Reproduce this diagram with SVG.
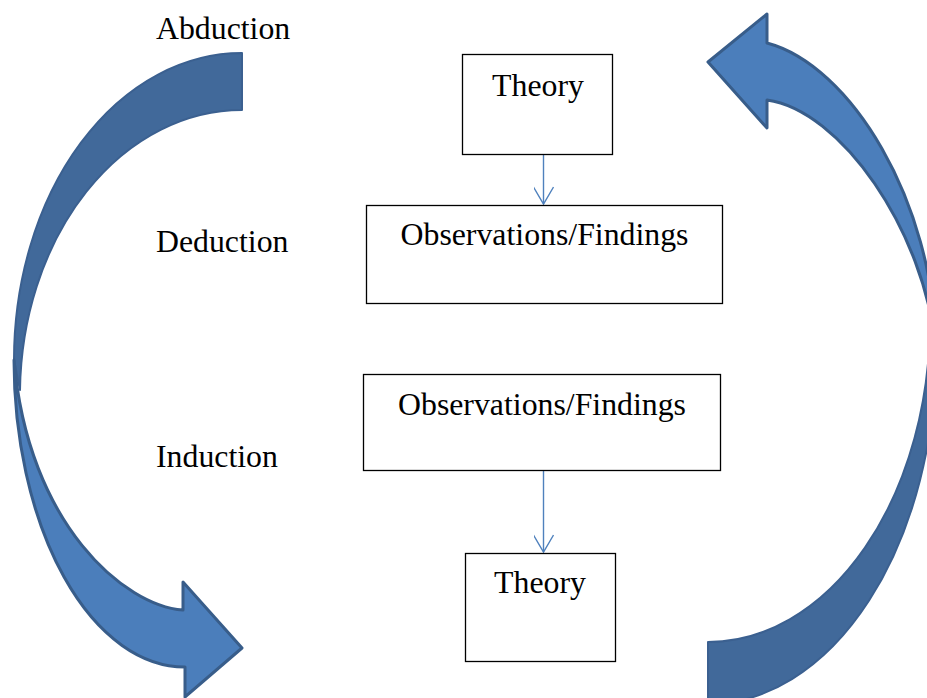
<svg xmlns="http://www.w3.org/2000/svg" width="927" height="698" viewBox="0 0 927 698">
  <defs>
    <style>
      .box { fill: #ffffff; stroke: #000000; stroke-width: 1.3; }
      .txt { font-family: "Liberation Serif", "Times New Roman", serif; font-size: 31.8px; fill: #000000; }
      .mid { text-anchor: middle; }
      .link { fill: none; stroke: #4F81BD; stroke-width: 1.4; }
      .back { fill: #41699A; stroke: #3B6090; stroke-width: 2; stroke-linejoin: round; }
      .front { fill: #4B7EBB; stroke: #385D8A; stroke-width: 3; stroke-linejoin: round; }
    </style>
    <marker id="vhead" markerUnits="userSpaceOnUse" markerWidth="24" markerHeight="20" refX="21" refY="10" orient="auto">
      <path d="M4,0 L21,10 L4,20" fill="none" stroke="#4F81BD" stroke-width="1.4"/>
    </marker>
  </defs>

  <!-- large curved arrow on the left, running down from the top -->
  <g id="arrow-left">
    <path class="back" d="M242,53 A228,307 0 0 0 14,360 L20,390 A222,285 0 0 1 242,110 Z"/>
    <path class="front" d="M14,360 A171,307 0 0 0 185,667 L185,697 L242,648 L183,582 L183,610 C125,606 28,525 14,360 Z"/>
  </g>

  <!-- large curved arrow on the right, running up from the bottom -->
  <g id="arrow-right" transform="rotate(180 475 355)">
    <path class="back" d="M242,6 A228,354 0 0 0 14,360 L20,390 A222,322 0 0 1 242,68 Z"/>
    <path class="front" d="M14,360 C16,510 100,645 183,667 L183,696 L242,648 L183,582 L183,610 C110,600 25,480 14,360 Z"/>
  </g>

  <!-- side labels -->
  <g id="label-abduction"><text class="txt" x="156" y="39">Abduction</text></g>
  <g id="label-deduction"><text class="txt" x="156" y="252">Deduction</text></g>
  <g id="label-induction"><text class="txt" x="156" y="467">Induction</text></g>

  <!-- connectors -->
  <g id="connectors">
    <line class="link" x1="543.5" y1="155" x2="543.5" y2="204" marker-end="url(#vhead)"/>
    <line class="link" x1="543.5" y1="471" x2="543.5" y2="552" marker-end="url(#vhead)"/>
  </g>

  <!-- deduction boxes -->
  <g id="theory-top">
    <rect class="box" x="462.5" y="54.5" width="150" height="100"/>
    <text class="txt mid" x="538" y="96">Theory</text>
  </g>
  <g id="findings-top">
    <rect class="box" x="366.5" y="205.5" width="356" height="98"/>
    <text class="txt mid" x="544.5" y="245">Observations/Findings</text>
  </g>

  <!-- induction boxes -->
  <g id="findings-bottom">
    <rect class="box" x="363.5" y="374.5" width="357" height="96"/>
    <text class="txt mid" x="542" y="415">Observations/Findings</text>
  </g>
  <g id="theory-bottom">
    <rect class="box" x="465.5" y="553.5" width="150" height="108"/>
    <text class="txt mid" x="540" y="593">Theory</text>
  </g>
</svg>
